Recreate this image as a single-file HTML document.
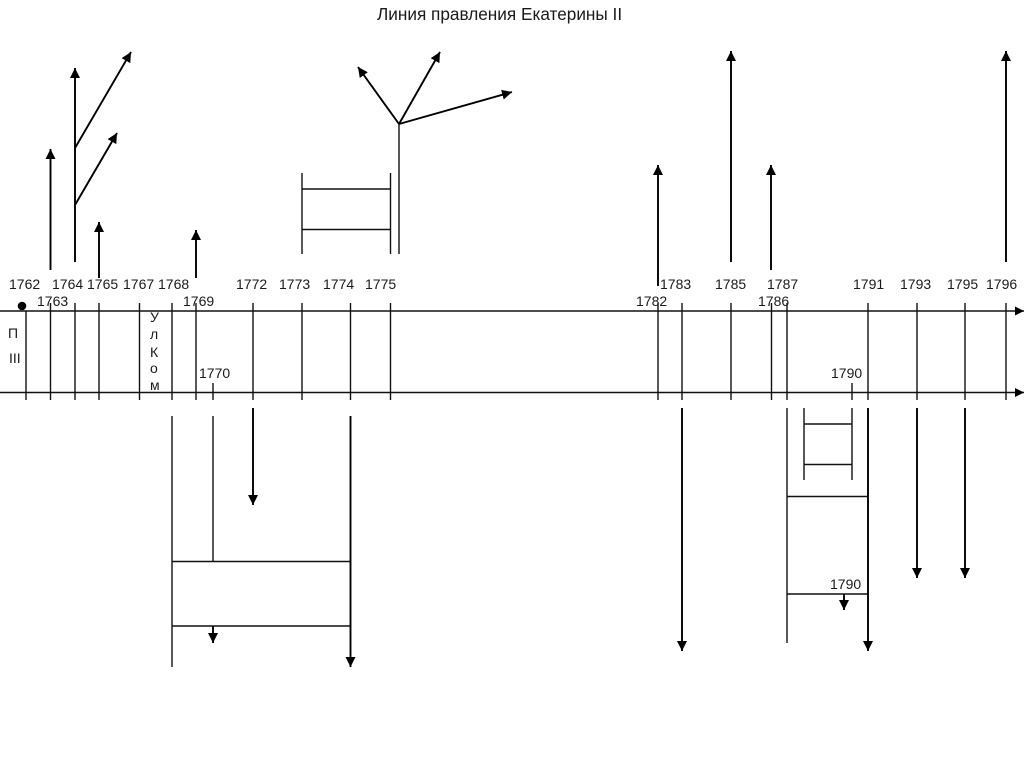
<!DOCTYPE html>
<html><head><meta charset="utf-8"><style>
html,body{margin:0;padding:0;background:#fff;width:1024px;height:767px;overflow:hidden}
svg{display:block}
text{font-family:"Liberation Sans",sans-serif;font-size:14px;fill:#1a1a1a}
</style></head><body>
<svg width="1024" height="767" viewBox="0 0 1024 767" xmlns="http://www.w3.org/2000/svg">
<defs>
<marker id="a" markerUnits="userSpaceOnUse" markerWidth="11" markerHeight="11" refX="10" refY="5" orient="auto"><path d="M0 0L10 5L0 10Z" fill="#000"/></marker>
</defs>
<text x="377" y="20" style="font-size:17.2px">Линия правления Екатерины II</text>

<g stroke="#111" stroke-width="1.4" fill="none">
<path d="M0 311H1024M0 392.5H1024" stroke-width="1.6"/>
<path d="M26 311V400M50.5 303V400M75 303V400M99 303V400M139.5 303V400M172 303V400M196 303V400M213 383V400M253 303V400M302 303V400M350.5 303V400M390.5 303V400M658 303V400M682 303V400M731 303V400M771.5 303V400M787 303V400M852 383V400M868 303V400M917 303V400M965 303V400M1006 303V400"/>
<path d="M302 173V254M390.5 173V254M399 124V254M302 189H390.5M302 229.5H390.5"/>
<path d="M172 416V667M213 416V561.5M172 561.5H350.5M172 626H350.5"/>
<path d="M787 408V643M804 408V480M852 408V480M804 424H852M804 464.5H852M787 496.5H868M787 594H868"/>
</g>
<g fill="#000">
<path d="M1015 306.5L1024 311L1015 315.5ZM1015 388L1024 392.5L1015 397Z"/>
<circle cx="22" cy="306" r="4.3"/>
</g>
<g stroke="#000" stroke-width="1.9" fill="none" marker-end="url(#a)">
<path d="M50.5 270V149"/>
<path d="M75 262V68"/>
<path d="M75 148L131 52"/>
<path d="M75 205L117 133"/>
<path d="M99 278V222"/>
<path d="M196 278V230"/>
<path d="M399 124L358 67"/>
<path d="M399 124L440 52"/>
<path d="M399 124L512 92"/>
<path d="M658 286V165"/>
<path d="M731 262V51"/>
<path d="M771 270V165"/>
<path d="M1006 262V51"/>
<path d="M253 408V505"/>
<path d="M350.5 416V667"/>
<path d="M213 626V643"/>
<path d="M682 408V651"/>
<path d="M868 408V651"/>
<path d="M844 594V610"/>
<path d="M917 408V578"/>
<path d="M965 408V578"/>
</g>

<text x="9" y="289">1762</text>
<text x="37" y="306">1763</text>
<text x="52" y="289">1764</text>
<text x="87" y="289">1765</text>
<text x="123" y="289">1767</text>
<text x="158" y="289">1768</text>
<text x="183" y="306">1769</text>
<text x="199" y="378">1770</text>
<text x="236" y="289">1772</text>
<text x="279" y="289">1773</text>
<text x="323" y="289">1774</text>
<text x="365" y="289">1775</text>
<text x="636" y="306">1782</text>
<text x="660" y="289">1783</text>
<text x="715" y="289">1785</text>
<text x="758" y="306">1786</text>
<text x="767" y="289">1787</text>
<text x="831" y="378">1790</text>
<text x="853" y="289">1791</text>
<text x="900" y="289">1793</text>
<text x="947" y="289">1795</text>
<text x="986" y="289">1796</text>
<text x="830" y="589">1790</text>

<text x="8" y="338">П</text>
<text x="9" y="363">III</text>
<text x="150" y="322">У</text>
<text x="150" y="339">л</text>
<text x="150" y="357">К</text>
<text x="150" y="373">о</text>
<text x="150" y="390">м</text>
</svg>
</body></html>
